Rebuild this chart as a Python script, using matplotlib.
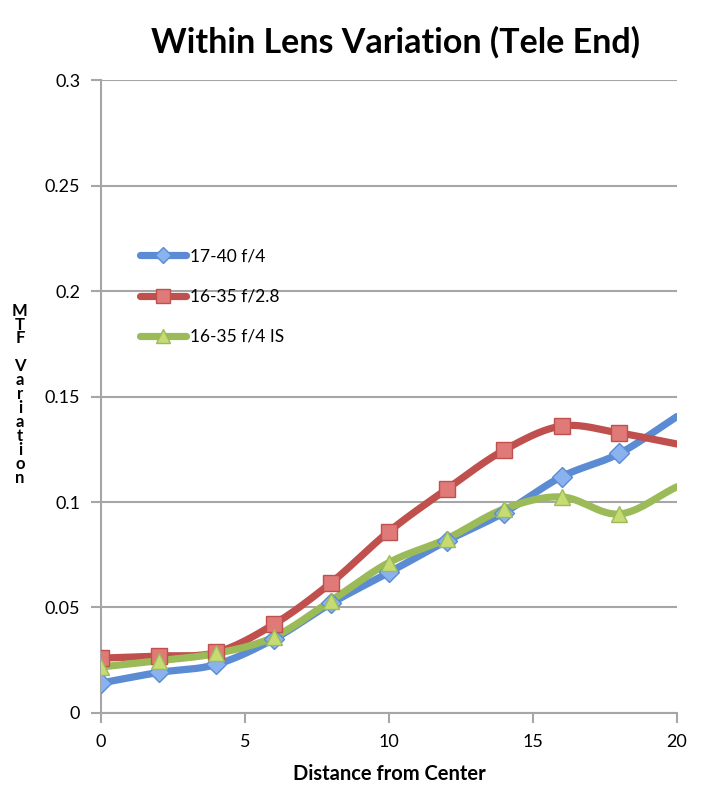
import numpy as np
import matplotlib
matplotlib.use("Agg")
import matplotlib.pyplot as plt
from matplotlib.lines import Line2D

plt.rcParams["font.family"] = ["Lato", "DejaVu Sans"]

distance = [0, 2, 4, 6, 8, 10, 12, 14, 16, 18, 20]
lens_17_40 = [0.0142, 0.0192, 0.0230, 0.0350, 0.0520, 0.0666, 0.0815, 0.0950, 0.1120, 0.1230, 0.1405]
lens_16_35_28 = [0.0260, 0.0270, 0.0287, 0.0420, 0.0618, 0.0860, 0.1060, 0.1246, 0.1360, 0.1327, 0.1275]
lens_16_35_4is = [0.0218, 0.0248, 0.0282, 0.0360, 0.0533, 0.0713, 0.0825, 0.0967, 0.1024, 0.0943, 0.1072]

labels = ["17-40 f/4", "16-35 f/2.8", "16-35 f/4 IS"]
colors = ["#5B8BD3", "#C0504D", "#9BBB59"]
faces = ["#8AB2EE", "#E07A78", "#C6DC72"]
markers = ["D", "s", "^"]
msizes = [10, 12, 12]


def smooth(x, y, n=30):
    # Catmull-Rom curve through the points, like Excel's smoothed line
    x = np.asarray(x, float); y = np.asarray(y, float)
    px = np.concatenate([[2 * x[0] - x[1]], x, [2 * x[-1] - x[-2]]])
    py = np.concatenate([[2 * y[0] - y[1]], y, [2 * y[-1] - y[-2]]])
    xs, ys = [], []
    t = np.linspace(0, 1, n)
    for i in range(1, len(px) - 2):
        for p, out in ((px, xs), (py, ys)):
            p0, p1, p2, p3 = p[i - 1], p[i], p[i + 1], p[i + 2]
            out.append(0.5 * (2 * p1 + (-p0 + p2) * t
                              + (2 * p0 - 5 * p1 + 4 * p2 - p3) * t ** 2
                              + (-p0 + 3 * p1 - 3 * p2 + p3) * t ** 3))
    return np.concatenate(xs), np.concatenate(ys)


fig = plt.figure(figsize=(7.11, 8.06), dpi=100)
ax = fig.add_axes([0.142, 0.1154, 0.81, 0.7853])

series = [lens_17_40, lens_16_35_28, lens_16_35_4is]
handles = []
for vals, lab, c, fc, m, ms in zip(series, labels, colors, faces, markers, msizes):
    sx, sy = smooth(distance, vals)
    ax.plot(sx, sy, color=c, lw=5.2, solid_capstyle="round", zorder=3)
    ax.plot(distance[:-1], vals[:-1], ls="none", marker=m, ms=ms, mfc=fc,
            mec=c, mew=1.0, zorder=4)
    handles.append(Line2D([], [], color=c, lw=5.2, marker=m, ms=ms * 0.8,
                          mfc=fc, mec=c, solid_capstyle="round"))

ax.set_xlim(0, 20)
ax.set_ylim(0, 0.3)
ax.set_xticks([0, 5, 10, 15, 20])
ax.set_yticks([0, 0.05, 0.1, 0.15, 0.2, 0.25, 0.3])
ax.set_yticklabels(["0", "0.05", "0.1", "0.15", "0.2", "0.25", "0.3"])
ax.yaxis.grid(True, color="#A6A6A6", lw=1.5)
ax.set_axisbelow(True)
for s in ("top", "right"):
    ax.spines[s].set_visible(False)
for s in ("left", "bottom"):
    ax.spines[s].set_color("#A6A6A6")
    ax.spines[s].set_linewidth(1.5)
ax.tick_params(direction="out", length=7, width=1.5, color="#A6A6A6",
               labelsize=13, pad=8)

ax.set_xlabel("Distance from Center", fontsize=14.5, fontweight="bold", labelpad=10)
fig.text(0.028, 0.511, "\n".join("MTF Variation"), fontsize=12, fontweight="bold",
         ha="center", va="center", linespacing=0.84)
fig.text(0.556, 0.948, "Within Lens Variation (Tele End)", fontsize=24.5,
         fontweight="bold", ha="center", va="center")

ax.legend(handles, labels, loc="upper left", bbox_to_anchor=(0.055, 0.745),
          frameon=False, fontsize=12.5, handlelength=2.7, handletextpad=0.2,
          labelspacing=1.4, borderaxespad=0)

fig.savefig("out.png", dpi=100, facecolor="white")
